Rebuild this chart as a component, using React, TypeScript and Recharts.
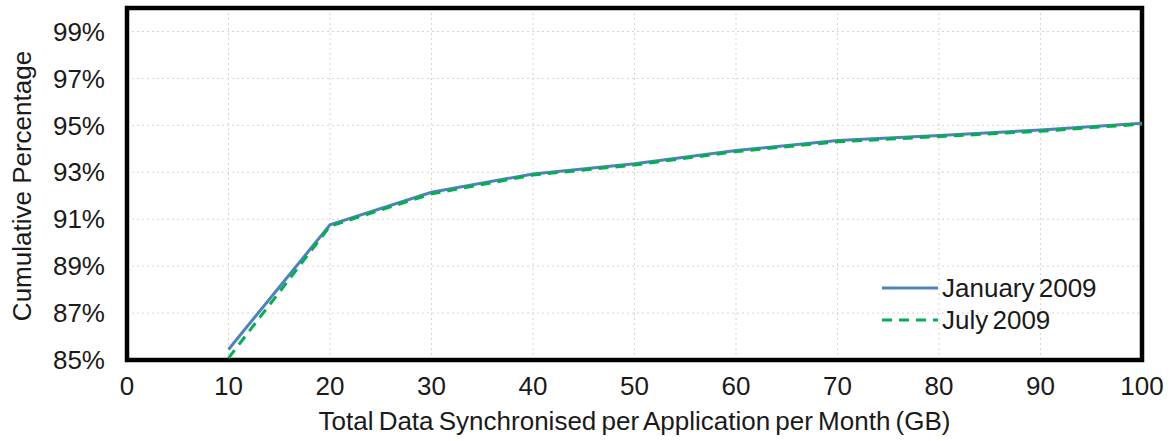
import React from "react";
import {
  LineChart,
  Line,
  XAxis,
  YAxis,
  CartesianGrid,
  Legend,
  ReferenceArea,
} from "recharts";

const dataGB = [10, 20, 30, 40, 50, 60, 70, 80, 90, 100];
const january2009 = [85.45, 90.76, 92.15, 92.93, 93.36, 93.93, 94.35, 94.57, 94.8, 95.09];
const july2009 = [85.08, 90.7, 92.08, 92.88, 93.31, 93.88, 94.3, 94.52, 94.75, 95.05];

const xTicks = [0, 10, 20, 30, 40, 50, 60, 70, 80, 90, 100];
const yTicks = [85, 87, 89, 91, 93, 95, 97, 99];

const series = [
  { key: "jan", name: "January 2009", color: "#4f81bd", dash: undefined as string | undefined },
  { key: "jul", name: "July 2009", color: "#00b050", dash: "10 7" },
];

const data = dataGB.map((gb, i) => ({ gb, jan: january2009[i], jul: july2009[i] }));

const FONT = "'Liberation Sans', Arial, sans-serif";
const TEXT = "#1a1a1a";
const FS = 26;

const YLabel = (props: any) => {
  const vb = props.viewBox || { x: 0, y: 8, width: 127, height: 352 };
  const x = vb.x + 31;
  const y = vb.y + vb.height / 2 + 2;
  return (
    <text
      x={x}
      y={y}
      transform={`rotate(-90 ${x} ${y})`}
      textAnchor="middle"
      fontSize={FS}
      fontFamily={FONT}
      fill={TEXT}
    >
      Cumulative Percentage
    </text>
  );
};

const LegendBox = () => (
  <div style={{ fontFamily: FONT, fontSize: FS, color: TEXT, wordSpacing: -3 }}>
    {series.map((s) => (
      <div key={s.key} style={{ display: "flex", alignItems: "center", height: 32 }}>
        <svg width={60} height={10} style={{ marginRight: 2 }}>
          <line x1={2} y1={5} x2={58} y2={5} stroke={s.color} strokeWidth={3} strokeDasharray={s.dash} />
        </svg>
        <span style={{ whiteSpace: "nowrap" }}>{s.name}</span>
      </div>
    ))}
  </div>
);

export default function App() {
  return (
    <div style={{ position: "absolute", left: 0, top: 0, width: 1170, height: 441, background: "#fff" }}>
      <LineChart width={1170} height={441} data={data} margin={{ top: 8, right: 28, left: 0, bottom: 0 }}>
        <CartesianGrid stroke="#d4d4d4" strokeDasharray="2 3" />
        <XAxis
          dataKey="gb"
          type="number"
          domain={[0, 100]}
          ticks={xTicks}
          height={81}
          tickSize={0}
          tickMargin={17}
          axisLine={false}
          tick={{ fontSize: FS, fill: TEXT, fontFamily: FONT }}
          label={{
            value: "Total Data Synchronised per Application per Month (GB)",
            position: "insideBottom",
            offset: 11,
            style: { fontSize: FS, fill: TEXT, fontFamily: FONT, wordSpacing: -2 },
          }}
        />
        <YAxis
          type="number"
          domain={[85, 100]}
          ticks={yTicks}
          width={127}
          tickSize={0}
          tickMargin={22}
          axisLine={false}
          allowDataOverflow
          tickFormatter={(v) => `${v}%`}
          tick={{ fontSize: FS, fill: TEXT, fontFamily: FONT }}
          label={<YLabel />}
        />
        <ReferenceArea x1={0} x2={100} y1={85} y2={100} fill="none" stroke="#000" strokeWidth={4.5} />
        <Legend
          layout="vertical"
          align="center"
          verticalAlign="middle"
          wrapperStyle={{ left: 880, top: 272, width: 280 }}
          content={<LegendBox />}
        />
        {series.map((s) => (
          <Line
            key={s.key}
            dataKey={s.key}
            name={s.name}
            stroke={s.color}
            strokeWidth={3}
            strokeDasharray={s.dash}
            dot={false}
            activeDot={false}
            isAnimationActive={false}
          />
        ))}
      </LineChart>
    </div>
  );
}
